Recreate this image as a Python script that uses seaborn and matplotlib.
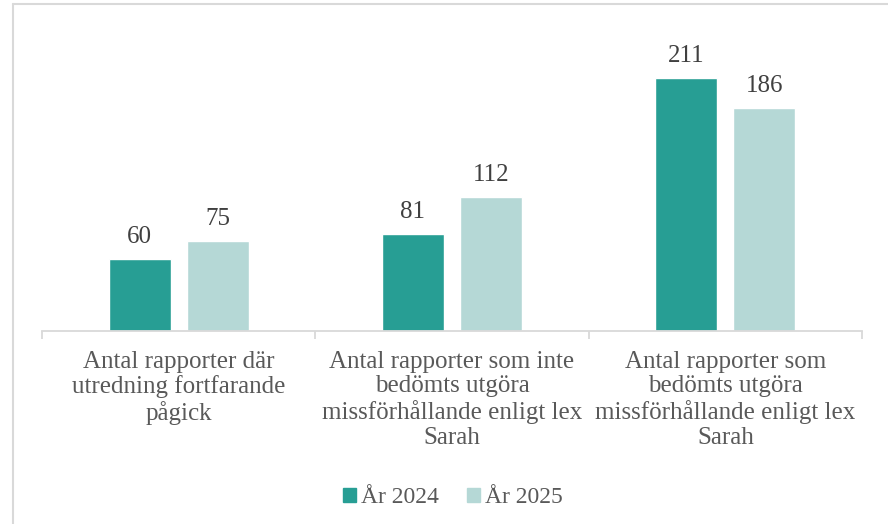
import pandas as pd
import matplotlib.pyplot as plt
import seaborn as sns
from matplotlib.patches import Rectangle
from matplotlib.lines import Line2D

# Data
kategorier = [
    'Antal rapporter där\nutredning fortfarande\npågick',
    'Antal rapporter som inte\nbedömts utgöra\nmissförhållande enligt lex\nSarah',
    'Antal rapporter som\nbedömts utgöra\nmissförhållande enligt lex\nSarah',
]
ar_2024 = [60, 81, 211]
ar_2025 = [75, 112, 186]
serier = ['År 2024', 'År 2025']

df = pd.DataFrame({
    'kategori': kategorier * 2,
    'serie': [serier[0]] * 3 + [serier[1]] * 3,
    'antal': ar_2024 + ar_2025,
})

sns.set_style('white')
plt.rcParams['font.family'] = ['Liberation Serif', 'DejaVu Serif']
text_farg = '#595959'
ram_farg = '#d9d9d9'
farger = ['#279e94', '#b5d8d6']

fig = plt.figure(figsize=(8.88, 5.24), dpi=100)
ax = fig.add_axes([0.0473, 0.368, 0.9234, 0.575])

sns.barplot(data=df, x='kategori', y='antal', hue='serie', palette=farger,
            width=0.571, gap=0.205, ax=ax, legend=False, saturation=1)

# Värden ovanför staplarna
for cont in ax.containers:
    ax.bar_label(cont, fmt='%d', padding=8, fontsize=18, color='#404040')

ax.set_ylim(0, 251)
ax.set_xlim(-0.5, 2.5)
ax.set_xlabel('')
ax.set_ylabel('')
ax.set_yticks([])
for s in ['top', 'right', 'left']:
    ax.spines[s].set_visible(False)
ax.spines['bottom'].set_color(ram_farg)
ax.spines['bottom'].set_linewidth(1.3)

# Kategori-gränser som tickmarkeringar
ax.set_xticks([-0.5, 0.5, 1.5, 2.5], minor=False)
ax.set_xticklabels([])
ax.tick_params(axis='x', which='major', length=6, width=1.3, color=ram_farg, bottom=True)
ax.set_xticks([0, 1, 2], minor=True)
ax.set_xticklabels(kategorier, minor=True, fontsize=18, color=text_farg, linespacing=1.15)
ax.tick_params(axis='x', which='minor', length=0, pad=14)

# Legend
handles = [Rectangle((0, 0), 1, 1, color=c) for c in farger]
fig.legend(handles, serier, loc='center', bbox_to_anchor=(0.51, 0.05), ncol=2,
           frameon=False, fontsize=17, labelcolor=text_farg, handlelength=0.55,
           handleheight=0.55, handletextpad=0.2, columnspacing=1.2)

# Ram runt diagrammet
fig.add_artist(Line2D([0.0141, 0.0141], [0, 0.9924], transform=fig.transFigure,
                      color=ram_farg, lw=1.5))
fig.add_artist(Line2D([0.0141, 1.0], [0.9924, 0.9924], transform=fig.transFigure,
                      color=ram_farg, lw=1.5))

fig.savefig('out.png', dpi=100)
